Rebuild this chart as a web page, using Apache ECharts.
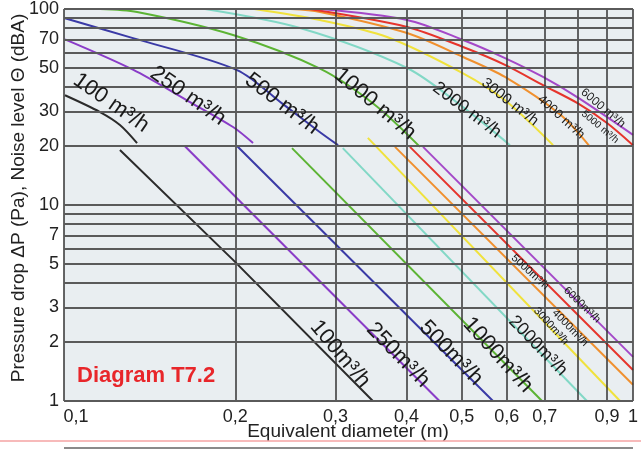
<!DOCTYPE html>
<html><head><meta charset="utf-8">
<script src="https://cdn.jsdelivr.net/npm/echarts@6/dist/echarts.min.js"></script>
<style>html,body{margin:0;padding:0;background:#fff}#c{width:641px;height:450px}</style>
</head><body><div id="c"></div>
<script>
// ---- axis ticks ----
const xTicks = [0.1,0.2,0.3,0.4,0.5,0.6,0.7,0.8,0.9,1];
const xTickLabels = ['0,1','0,2','0,3','0,4','0,5','0,6','0,7','','0,9','1'];
const yTicks = [1,2,3,4,5,6,7,8,9,10,20,30,40,50,60,70,80,90,100];
const yTickLabels = ['1','2','3','','5','','7','','','10','20','30','','50','','70','','','100'];

// ---- flows (m³/h) ----
const flows = ['100','250','500','1000','2000','3000','4000','5000','6000'];

// ---- noise level curves Θ (dBA) : [diameter m, dBA] ----
const noise100  = [[0.1004,36.3],[0.1157,29.8],[0.1254,25.6],[0.1344,20.7]];
const noise250  = [[0.1004,70],[0.1322,49],[0.165,34],[0.1982,25],[0.2149,20.7]];
const noise500  = [[0.1004,89.7],[0.1322,71],[0.2014,48.8],[0.2416,33],[0.2818,23.5],[0.3031,20.2]];
const noise1000 = [[0.1157,100],[0.1344,96.6],[0.1982,73.7],[0.2818,49.6],[0.352,32.4],[0.4223,19.8]];
const noise2000 = [[0.177,100],[0.2598,80],[0.4008,50],[0.5047,31.3],[0.6078,20.2]];
const noise3000 = [[0.216,100],[0.2818,87.9],[0.3696,72],[0.5027,47],[0.5957,34.2],[0.7236,20.2]];
const noise4000 = [[0.25,100],[0.2818,96.6],[0.4008,75.4],[0.5027,56.9],[0.5957,45],[0.7474,28.7],[0.8404,19.8]];
const noise5000 = [[0.27,100],[0.4008,81],[0.5027,64],[0.5957,51.9],[0.6948,40.9],[0.8003,33],[0.9001,26.2],[1,20.2]];
const noise6000 = [[0.2818,100],[0.4008,87.9],[0.5027,69.5],[0.5957,56.2],[0.6948,45],[0.8003,35.3],[1,22.8]];

// ---- pressure drop lines ΔP (Pa) : [diameter m, Pa] ----
const press100  = [[0.1254,19.1],[0.1982,5.25],[0.349,1]];
const press250  = [[0.163,20],[0.457,1]];
const press500  = [[0.2014,20],[0.5675,1]];
const press1000 = [[0.2516,19.5],[0.692,1]];
const press2000 = [[0.309,19.5],[0.83,1]];
const press3000 = [[0.342,22],[0.949,1]];
const press4000 = [[0.3817,19.8],[1,1.21]];
const press5000 = [[0.4055,19.8],[1,1.44]];
const press6000 = [[0.4276,19.8],[1,1.68]];

// ---- label anchors (data coordinates) ----
const noiseLabelAt = [[0.121,33.2],[0.1652,36],[0.2416,32.8],[0.352,32.8],[0.5108,30.5],[0.6078,33.5],[0.7474,28.1],[0.875,25],[0.8858,31.2]];
const pressLabelAt = [[0.3055,1.737],[0.3864,1.716],[0.4787,1.758],[0.579,1.716],[0.6808,1.908],[0.7178,2.41],[0.775,2.36],[0.659,4.55],[0.8135,3.09]];

// ---- styles ----
const colors = ['#2b2b2b','#8a3cc8','#3a3aa6','#5cb434','#82d8c6','#f0e23c','#f0902e','#e6342c','#a448c8'];
const noiseLabelStyle = [[-35,22],[-35,22],[-37,22],[-40,22],[-37,18],[-38,15],[-42,13],[-40,10],[-40,12]];
const pressLabelStyle = [[-50,22],[-46,22],[-46,22],[-48,22],[-46,18],[-48,11],[-46,11],[-42,11],[-44,11]];
const FONT = '"Liberation Sans", Arial, Helvetica, sans-serif';

const noiseData = [noise100,noise250,noise500,noise1000,noise2000,noise3000,noise4000,noise5000,noise6000];
const pressData = [press100,press250,press500,press1000,press2000,press3000,press4000,press5000,press6000];

const chart = echarts.init(document.getElementById('c'), null, {renderer:'canvas'});

const gridLines = [];
xTicks.forEach((v,i)=>{
  gridLines.push({xAxis:v, lineStyle:{color:'#333', width:1.5, type:'solid'},
    label:{show: !!xTickLabels[i], formatter: xTickLabels[i] || ' ', position:'start', distance:7,
      color:'#222', fontSize:18, fontFamily:FONT, padding: i===0 ? [0,0,0,24] : 0}});
});
yTicks.forEach((v,i)=>{
  gridLines.push({yAxis:v, lineStyle:{color:'#5a5a5a', width:2, type:'solid'},
    label:{show: !!yTickLabels[i], formatter: yTickLabels[i] || ' ', position:'start', distance:5,
      color:'#222', fontSize:18, fontFamily:FONT}});
});

const series = [{
  type:'line', data:[], silent:true, z:1, animation:false,
  markLine:{silent:true, symbol:['none','none'], animation:false, data:gridLines}
}];

function labelPoint(at, text, st){
  return {coord: at, symbol:'circle', symbolSize:0,
    label:{show:true, position:'inside', formatter:text, rotate:st[0], fontSize:st[1],
      fontFamily:FONT, color:'#1a1a1a'}};
}

flows.forEach((f,i)=>{
  series.push({
    name:'noise '+f, type:'line', data:noiseData[i], showSymbol:false, smooth:0.3,
    lineStyle:{color:colors[i], width:2}, itemStyle:{color:colors[i]}, z:3, silent:true, animation:false,
    markPoint:{silent:true, animation:false, data:[labelPoint(noiseLabelAt[i], f+' m³/h', noiseLabelStyle[i])]}
  });
  series.push({
    name:'dp '+f, type:'line', data:pressData[i], showSymbol:false,
    lineStyle:{color:colors[i], width:2}, itemStyle:{color:colors[i]}, z:3, silent:true, animation:false,
    markPoint:{silent:true, animation:false, data:[labelPoint(pressLabelAt[i], f+'m³/h', pressLabelStyle[i])]}
  });
});

chart.setOption({
  animation:false,
  backgroundColor:'#ffffff',
  grid:{left:64, top:9, width:569, height:392, show:true, backgroundColor:'#e9eef1', borderWidth:0},
  xAxis:{type:'log', logBase:10, min:0.1, max:1, axisLine:{show:false}, axisTick:{show:false},
    axisLabel:{show:false}, splitLine:{show:false}, minorSplitLine:{show:false}},
  yAxis:{type:'log', logBase:10, min:1, max:100, axisLine:{show:false}, axisTick:{show:false},
    axisLabel:{show:false}, splitLine:{show:false}, minorSplitLine:{show:false}},
  series: series,
  graphic:[
    {type:'text', x:19, y:198, rotation:Math.PI/2, z:10,
      style:{text:'Pressure drop ΔP (Pa), Noise level Θ (dBA)', fill:'#222', fontSize:19, fontFamily:FONT,
        align:'center', verticalAlign:'middle', textAlign:'center', textVerticalAlign:'middle'}},
    {type:'text', x:348, y:432, z:10,
      style:{text:'Equivalent diameter (m)', fill:'#222', fontSize:19, fontFamily:FONT,
        align:'center', verticalAlign:'middle', textAlign:'center', textVerticalAlign:'middle'}},
    {type:'text', x:77, y:376, z:10,
      style:{text:'Diagram T7.2', fill:'#e8262a', fontSize:22, fontWeight:'bold', fontFamily:FONT,
        align:'left', verticalAlign:'middle', textAlign:'left', textVerticalAlign:'middle'}},
    {type:'line', z:10, shape:{x1:0, y1:441, x2:641, y2:441}, style:{stroke:'#f4a3a3', lineWidth:1.5}},
    {type:'line', z:10, shape:{x1:64, y1:448, x2:633, y2:448}, style:{stroke:'#8a8a8a', lineWidth:2}}
  ]
});
</script>
</body></html>
